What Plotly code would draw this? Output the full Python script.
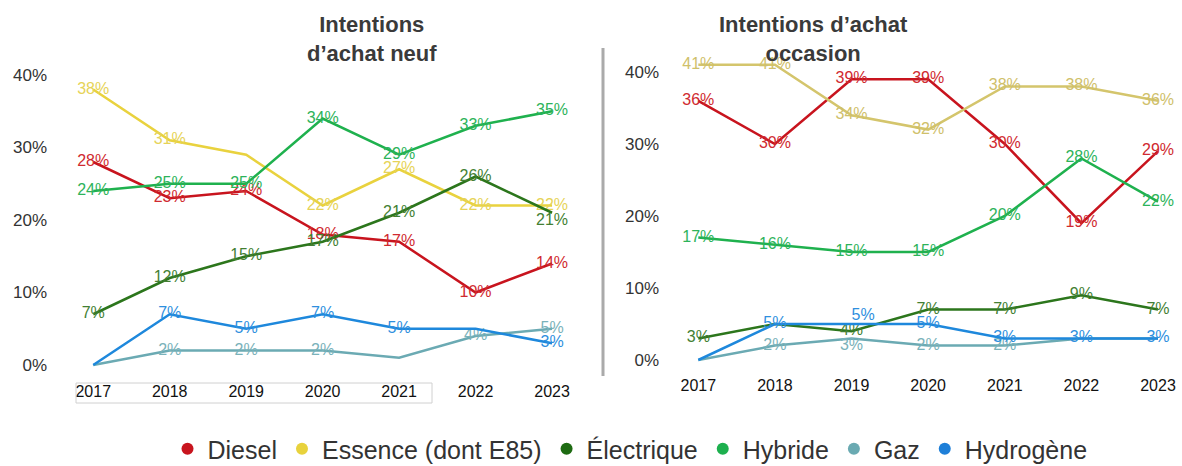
import plotly.graph_objects as go

years = [2017, 2018, 2019, 2020, 2021, 2022, 2023]
series = ["Diesel", "Essence (dont E85)", "Électrique", "Hybride", "Gaz", "Hydrogène"]

neuf = {
    "Diesel": [28, 23, 24, 18, 17, 10, 14],
    "Essence (dont E85)": [38, 31, 29, 22, 27, 22, 22],
    "Électrique": [7, 12, 15, 17, 21, 26, 21],
    "Hybride": [24, 25, 25, 34, 29, 33, 35],
    "Gaz": [0, 2, 2, 2, 1, 4, 5],
    "Hydrogène": [0, 7, 5, 7, 5, 5, 3],
}
occasion = {
    "Diesel": [36, 30, 39, 39, 30, 19, 29],
    "Essence (dont E85)": [41, 41, 34, 32, 38, 38, 36],
    "Électrique": [3, 5, 4, 7, 7, 9, 7],
    "Hybride": [17, 16, 15, 15, 20, 28, 22],
    "Gaz": [0, 2, 3, 2, 2, 3, 3],
    "Hydrogène": [0, 5, 5, 5, 3, 3, 3],
}
# which labels are visible (1) in the reference
show_neuf = {
    "Diesel": [1, 1, 1, 1, 1, 1, 1],
    "Essence (dont E85)": [1, 1, 0, 1, 1, 1, 1],
    "Électrique": [1, 1, 1, 1, 1, 1, 1],
    "Hybride": [1, 1, 1, 1, 1, 1, 1],
    "Gaz": [0, 1, 1, 1, 0, 1, 1],
    "Hydrogène": [0, 1, 1, 1, 1, 0, 1],
}
show_occ = {
    "Diesel": [1, 1, 1, 1, 1, 1, 1],
    "Essence (dont E85)": [1, 1, 1, 1, 1, 1, 1],
    "Électrique": [1, 0, 1, 1, 1, 1, 1],
    "Hybride": [1, 1, 1, 1, 1, 1, 1],
    "Gaz": [0, 1, 1, 1, 1, 0, 0],
    "Hydrogène": [0, 1, 1, 1, 1, 1, 1],
}
pos_neuf = {"Électrique": {6: "bottom center"}}
pos_occ = {"Hydrogène": {2: "top right"}, "Gaz": {2: "bottom center"}}

line_colors_l = {"Diesel": "#C8141E", "Essence (dont E85)": "#E9D23E", "Électrique": "#2C761C",
                 "Hybride": "#1FB14E", "Gaz": "#6BAAB3", "Hydrogène": "#1E88DC"}
line_colors_r = dict(line_colors_l)
line_colors_r["Essence (dont E85)"] = "#D4C56C"
text_colors = {"Diesel": "#D02A30", "Essence (dont E85)": "#E6D358", "Électrique": "#437F33",
               "Hybride": "#2DB35A", "Gaz": "#7AB2BA", "Hydrogène": "#2E8FDE"}
text_colors_r = dict(text_colors)
text_colors_r["Essence (dont E85)"] = "#CFC06A"
legend_colors = {"Diesel": "#C8141E", "Essence (dont E85)": "#E8D23C", "Électrique": "#1E6B12",
                 "Hybride": "#1DB04E", "Gaz": "#6AAAB2", "Hydrogène": "#1E7FD8"}

fig = go.Figure()

def add_panel(data, show, pos, lc, tc, xa, ya):
    for s in series:
        vals = data[s]
        txt = [f"{v}%" if show[s][i] else "" for i, v in enumerate(vals)]
        tp = [pos.get(s, {}).get(i, "middle center") for i in range(len(vals))]
        fig.add_trace(go.Scatter(
            x=years, y=vals, mode="lines+text", text=txt, textposition=tp,
            textfont=dict(size=16, color=tc[s], family="Liberation Sans"),
            line=dict(color=lc[s], width=2.5), showlegend=False, cliponaxis=False,
            hoverinfo="skip", xaxis=xa, yaxis=ya))

add_panel(neuf, show_neuf, pos_neuf, line_colors_l, text_colors, "x", "y")
add_panel(occasion, show_occ, pos_occ, line_colors_r, text_colors_r, "x2", "y2")

for s in series:
    fig.add_trace(go.Scatter(x=[None], y=[None], mode="markers", name=s,
                             marker=dict(color=legend_colors[s], size=12)))

W, H = 1182, 466
def px_x(p): return p / W
def px_y(p): return 1 - p / H

xcommon = dict(range=[2016.5, 2023.3], tickvals=years, ticktext=[str(y) for y in years],
               showgrid=False, zeroline=False, showline=False, ticks="", automargin=False,
               tickfont=dict(size=16, color="#111111", family="Liberation Sans"))
ycommon = dict(range=[-2, 42], tickvals=[0, 10, 20, 30, 40], ticktext=["0%", "10%", "20%", "30%", "40%"],
               showgrid=False, zeroline=False, showline=False, ticks="", automargin=False,
               tickfont=dict(size=17, color="#333333", family="Liberation Sans"))

fig.update_layout(
    width=W, height=H, margin=dict(l=0, r=0, t=0, b=0, autoexpand=False),
    paper_bgcolor="white", plot_bgcolor="white",
    xaxis=dict(domain=[px_x(55), px_x(575)], anchor="y", **xcommon),
    yaxis=dict(domain=[px_y(379.5), px_y(60.5)], anchor="x", ticklabelstandoff=7, **ycommon),
    xaxis2=dict(domain=[px_x(660), px_x(1181)], anchor="y2", **xcommon),
    yaxis2=dict(domain=[px_y(374.4), px_y(57.6)], anchor="x2", **ycommon),
    legend=dict(orientation="h", x=0.533, xanchor="center", y=px_y(449), yanchor="middle",
                font=dict(size=25, color="#333333", family="Liberation Sans"),
                itemwidth=30, tracegroupgap=0),
    showlegend=True,
)

fig.add_annotation(text="<b>Intentions<br>d’achat neuf</b>", xref="paper", yref="paper",
                   x=px_x(305), y=px_y(39.5), yanchor="middle", showarrow=False,
                   font=dict(size=22, color="#3A3A3A", family="Liberation Sans"))
fig.add_annotation(text="<b>Intentions d’achat<br>occasion</b>", xref="paper", yref="paper",
                   x=px_x(910), y=px_y(39.5), yanchor="middle", showarrow=False,
                   font=dict(size=22, color="#3A3A3A", family="Liberation Sans"))

fig.add_shape(type="line", xref="paper", yref="paper", x0=px_x(603), x1=px_x(603),
              y0=px_y(48), y1=px_y(376), line=dict(color="#AAAAAA", width=3))
fig.add_shape(type="rect", xref="paper", yref="paper", x0=px_x(76), x1=px_x(432),
              y0=px_y(403), y1=px_y(383), line=dict(color="#D0D0D0", width=1))

fig.write_html("out.html", config={"displayModeBar": False},
               post_script="document.body.style.margin='0';")
